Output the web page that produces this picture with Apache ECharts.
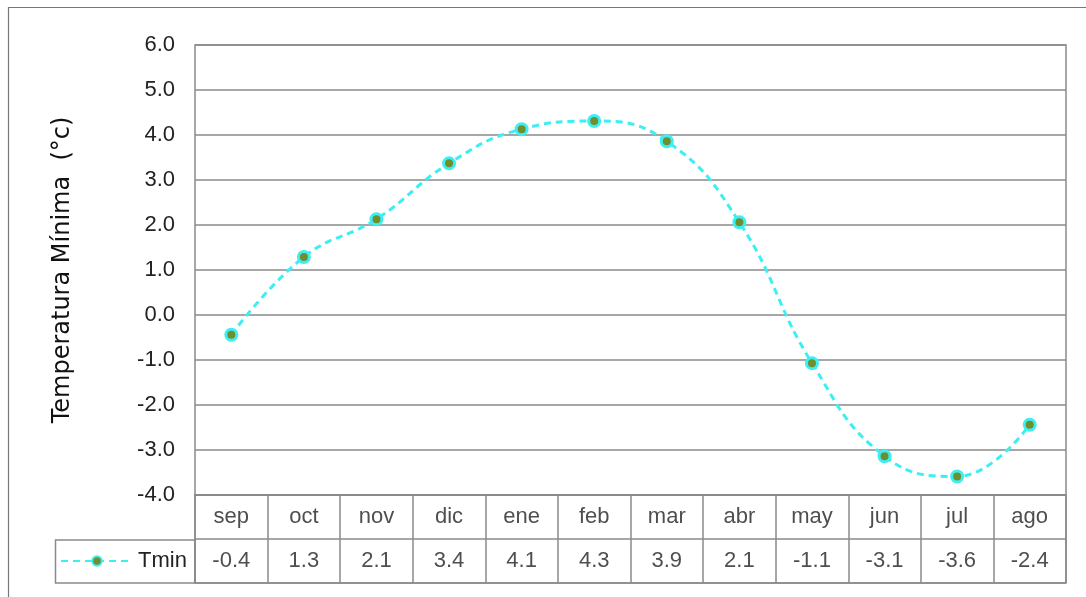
<!DOCTYPE html>
<html>
<head>
<meta charset="utf-8">
<script src="https://cdn.jsdelivr.net/npm/echarts@6/dist/echarts.min.js"></script>
<style>html,body{margin:0;padding:0;background:#fff;}#c{width:1086px;height:597px;}</style>
</head>
<body>
<div id="c"></div>
<script>
var categories = ['sep','oct','nov','dic','ene','feb','mar','abr','may','jun','jul','ago'];
var tmin = [-0.44, 1.29, 2.13, 3.37, 4.13, 4.31, 3.86, 2.06, -1.07, -3.14, -3.59, -2.44];
var yTicks = { min: -4, max: 6, interval: 1 };
var seriesName = 'Tmin';
var yTitle = 'Temperatura Mínima  (°c)';

var tickFont = "'Liberation Sans',Arial,sans-serif";
var gridColor = '#8a8a8a';
var lineColor = '#3deef2';

var catCells = categories.map(function (c, i) { return [i, 'cat', c]; });
var valCells = tmin.map(function (v, i) { return [i, 'val', v.toFixed(1)]; });

var chart = echarts.init(document.getElementById('c'));
chart.setOption({
  animation: false,
  backgroundColor: '#fff',
  graphic: [
    { type: 'rect', shape: { x: 8.5, y: 7.5, width: 1100, height: 640 }, style: { fill: 'none', stroke: '#777', lineWidth: 1.2 }, z: 0 },
    { type: 'rect', shape: { x: 55.5, y: 540, width: 139.5, height: 43 }, style: { fill: 'none', stroke: gridColor, lineWidth: 1.5 }, z: 10 }
  ],
  legend: {
    data: [seriesName],
    left: 60, top: 550,
    itemWidth: 72, itemHeight: 12,
    itemGap: 4,
    padding: 0,
    textStyle: { fontFamily: tickFont, fontSize: 22, color: '#222' }
  },
  grid: [
    { left: 195, right: 20, top: 45, bottom: 102, show: true, borderColor: gridColor, borderWidth: 1.5, containLabel: false },
    { left: 195, right: 20, top: 495, height: 88, show: true, borderColor: gridColor, borderWidth: 1.5, containLabel: false }
  ],
  xAxis: [
    { type: 'category', gridIndex: 0, data: categories, boundaryGap: true,
      axisLine: { show: false }, axisTick: { show: false }, axisLabel: { show: false }, splitLine: { show: false } },
    { type: 'category', gridIndex: 1, data: categories, boundaryGap: true,
      axisLine: { show: false }, axisTick: { show: false }, axisLabel: { show: false },
      splitLine: { show: true, interval: 0, lineStyle: { color: gridColor, width: 1.5 } } }
  ],
  yAxis: [
    { type: 'value', gridIndex: 0, min: yTicks.min, max: yTicks.max, interval: yTicks.interval,
      name: yTitle, nameLocation: 'middle', nameRotate: 90, nameGap: 120,
      nameTextStyle: { fontFamily: "'DejaVu Sans',sans-serif", fontSize: 24, color: '#111' },
      axisLine: { show: false }, axisTick: { show: false },
      axisLabel: { formatter: function (v) { return v.toFixed(1); }, fontFamily: tickFont, fontSize: 22, color: '#222', margin: 20 },
      splitLine: { show: true, lineStyle: { color: gridColor, width: 1.5 } } },
    { type: 'category', gridIndex: 1, data: ['cat', 'val'], inverse: true, boundaryGap: true,
      axisLine: { show: false }, axisTick: { show: false }, axisLabel: { show: false },
      splitLine: { show: true, interval: 0, lineStyle: { color: gridColor, width: 1.5 } } }
  ],
  series: [
    { name: seriesName, type: 'line', xAxisIndex: 0, yAxisIndex: 0, data: tmin, smooth: 0.45,
      symbol: 'circle', symbolSize: 11,
      lineStyle: { color: lineColor, width: 3, type: [7, 5] },
      itemStyle: { color: '#6f8f2f', borderColor: lineColor, borderWidth: 3 },
      z: 5 },
    { type: 'scatter', xAxisIndex: 1, yAxisIndex: 1, data: catCells.concat(valCells),
      symbolSize: 1, itemStyle: { color: 'rgba(0,0,0,0)' }, silent: true,
      label: { show: true, position: 'inside', formatter: function (p) { return p.data[2]; },
        fontFamily: tickFont, fontSize: 22, color: '#222' } }
  ]
});
</script>
</body>
</html>
